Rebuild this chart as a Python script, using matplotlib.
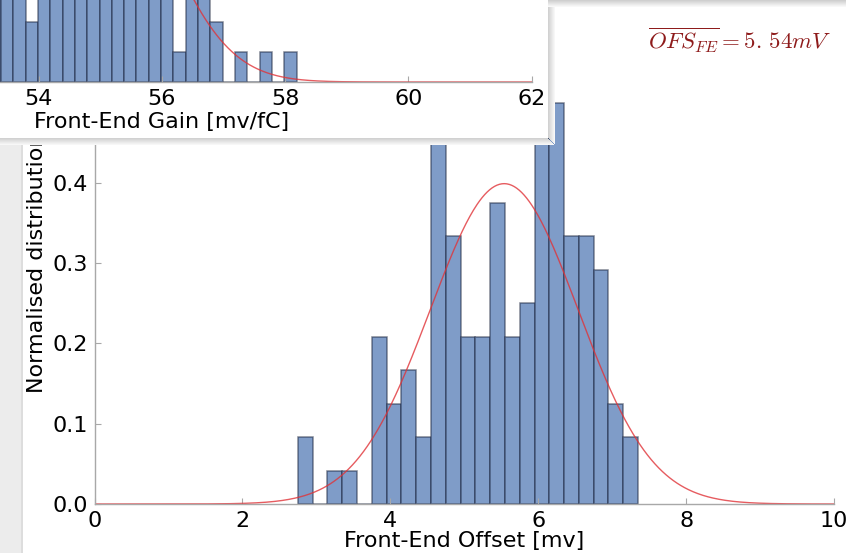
import numpy as np
import matplotlib.pyplot as plt
from matplotlib.patches import Rectangle

plt.rcParams['mathtext.fontset'] = 'cm'

# front-end offset histogram (counts per 0.2 mV bin)
ofs_edges = np.round(np.arange(2.75, 7.36, 0.2), 2)
ofs_counts = [2, 0, 1, 1, 0, 5, 3, 4, 2, 12, 8, 5, 5, 9, 5, 6, 12, 12, 8, 8, 7, 3, 2]
ofs_mean = 5.54
ofs_sigma = 1.0

# front-end gain histogram (counts per 0.2 mV/fC bin)
gain_edges = np.round(np.arange(52.59, 58.20, 0.2), 2)
gain_counts = [2, 3, 4, 5, 6, 7, 2, 9, 8, 9, 9, 9, 8, 9, 7, 6, 5, 4, 1, 4, 4, 2, 0, 1, 0, 1, 0, 1]
gain_mean = 54.8
gain_sigma = 1.12

W, H = 846, 553
fig = plt.figure(figsize=(W / 100, H / 100), dpi=100)
fig.patch.set_facecolor('white')


def px_rect(x0, y0, x1, y1, **kw):
    # rectangle given in pixel coords, origin top-left
    r = Rectangle((x0 / W, 1 - y1 / H), (x1 - x0) / W, (y1 - y0) / H,
                  transform=fig.transFigure, linewidth=0, **kw)
    fig.patches.append(r)


def gauss(x, mu, s):
    return np.exp(-0.5 * ((x - mu) / s) ** 2) / (s * np.sqrt(2 * np.pi))


def style_axes(ax):
    for side in ('top', 'right'):
        ax.spines[side].set_visible(False)
    for side in ('left', 'bottom'):
        ax.spines[side].set_color('#a8a8a8')
        ax.spines[side].set_linewidth(1.0)
    ax.tick_params(direction='in', length=4, color='#a8a8a8', labelsize=16, pad=5)
    ax.tick_params(top=False, right=False)


bar_face = '#7f9cc8'
bar_edge = (0.1, 0.14, 0.24, 0.55)
curve_col = (0.88, 0.2, 0.22, 0.8)

# left window border
px_rect(0, 0, 21, H, facecolor='#ececec', zorder=0)
px_rect(21, 0, 23, H, facecolor='#dddddd', zorder=0)
# top border right of the front window
for i, g in enumerate(['#cfcfcf', '#d6d6d6', '#dddddd', '#e4e4e4', '#ebebeb', '#f2f2f2', '#f8f8f8']):
    px_rect(548, i, W, i + 1, facecolor=g, zorder=0)

# offset histogram
ax = fig.add_axes([94.5 / W, 1 - 504 / H, 739.5 / W, 481.8 / H])
ax.set_zorder(1)
ofs_dens = np.array(ofs_counts) / (sum(ofs_counts) * 0.2)
ax.bar(ofs_edges[:-1], ofs_dens, width=np.diff(ofs_edges), align='edge',
       color=bar_face, edgecolor=bar_edge, linewidth=1.1)
xs = np.linspace(0, 10, 600)
ax.plot(xs, gauss(xs, ofs_mean, ofs_sigma), color=curve_col, linewidth=1.0)
ax.set_xlim(0, 10)
ax.set_ylim(0, 0.6)
ax.set_xticks([0, 2, 4, 6, 8, 10])
ax.set_yticks(np.arange(0, 0.61, 0.1))
ax.set_yticklabels(['%.1f' % v for v in np.arange(0, 0.61, 0.1)])
style_axes(ax)
ax.set_xlabel('Front-End Offset [mv]', fontsize=16, labelpad=0)
ax.set_ylabel('Normalised distribution', fontsize=16, labelpad=4)
mean_txt = r'$\overline{OFS_{FE}}=' + ('%.2f' % ofs_mean).replace('.', r'.\,') + r'mV$'
ax.text(0.997, 0.962, mean_txt, transform=ax.transAxes, ha='right', va='center',
        fontsize=16.5, color='#8e1b1b')

# front window with the gain histogram, plus its shadow
for i in range(7):
    g = 0.82 + i * 0.025
    px_rect(548 + i, 7, 549 + i, 138 + i, facecolor=(g, g, g), zorder=4)
    px_rect(0, 138 + i, 548 + i, 139 + i, facecolor=(g, g, g), zorder=4)
px_rect(0, 0, 548, 138, facecolor='white', zorder=5)

gx = fig.add_axes([-208 / W, 1 - 82 / H, 739.5 / W, 481.8 / H])
gx.set_zorder(6)
gain_dens = np.array(gain_counts) / (sum(gain_counts) * 0.2)
gx.bar(gain_edges[:-1], gain_dens, width=np.diff(gain_edges), align='edge',
       color=bar_face, edgecolor=bar_edge, linewidth=1.1)
gs = np.linspace(50, 62, 600)
gx.plot(gs, gauss(gs, gain_mean, gain_sigma), color=curve_col, linewidth=1.0)
gx.set_xlim(50, 62)
gx.set_ylim(0, 0.64)
gx.set_xticks([50, 52, 54, 56, 58, 60, 62])
style_axes(gx)
gx.set_xlabel('Front-End Gain [mv/fC]', fontsize=16, labelpad=2)

fig.savefig('out.png', dpi=100)
